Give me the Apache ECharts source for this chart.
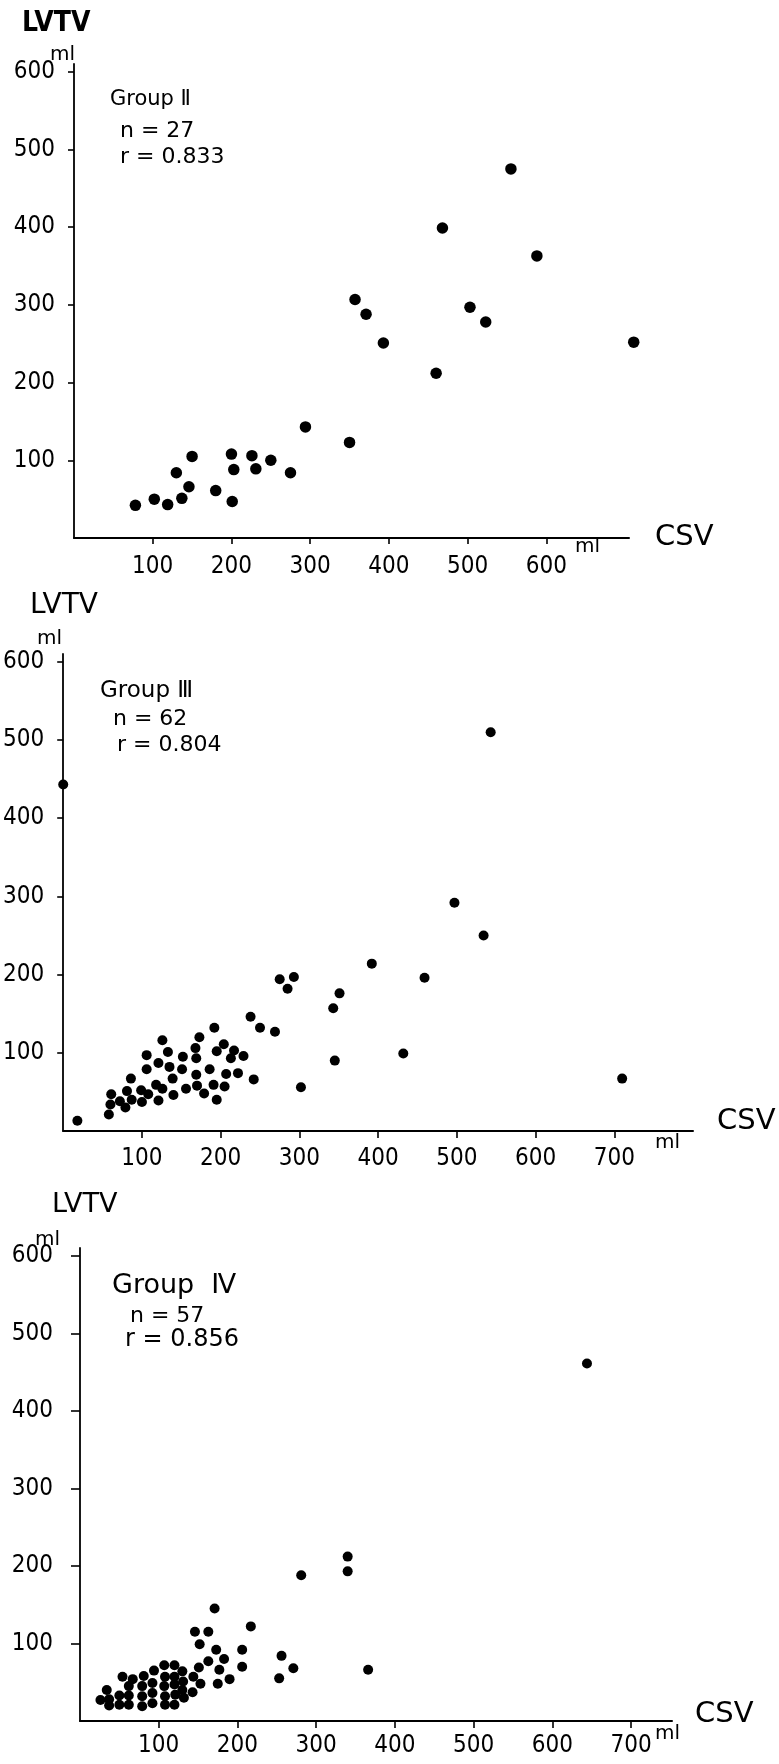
<!DOCTYPE html>
<html>
<head>
<meta charset="utf-8">
<script src="https://cdn.jsdelivr.net/npm/echarts@6/dist/echarts.min.js"></script>
<style>
    body { margin: 0; background: #fff; }
    #main { width: 779px; height: 1764px; }
</style>
</head>
<body>
<div id="main"></div>
<script>
//LVTV 对 CSV 散点图, 三组

//tick labels
var yTicks = [100, 200, 300, 400, 500, 600];
var xTicks2 = [100, 200, 300, 400, 500, 600];
var xTicks34 = [100, 200, 300, 400, 500, 600, 700];

//Group II
var csv2 = [555, 468, 588, 357, 371, 503, 523, 393, 711, 460, 294, 350, 150, 200, 226, 250, 130, 203, 231, 275, 146, 180, 102, 137, 78, 119, 201];
var lvtv2 = [475, 399, 363, 307, 288, 297, 278, 251, 252, 212, 143, 123, 105, 108, 106, 100, 84, 88, 89, 84, 66, 61, 50, 51, 42, 43, 47];

//Group III
var csv3 = [543, 497, 534, 392, 459, 275, 293, 285, 351, 343, 238, 250, 269, 432, 345, 242, 302, 710, 0,
    18, 58, 60, 61, 72, 79, 81, 86, 87, 99, 108, 100, 106, 106, 118, 121, 121, 126, 126, 133,
    135, 139, 140, 151, 152, 156, 168, 169, 169, 170, 173, 179, 186, 191, 192, 195, 195, 204, 205, 207,
    213, 217, 222, 229];
var lvtv3 = [510, 292, 250, 214, 196, 194, 197, 182, 176, 157, 146, 132, 127, 99, 90, 66, 56, 67, 443,
    13, 21, 34, 47, 38, 30, 51, 67, 40, 52, 47, 37, 79, 97, 59, 87, 39, 54, 116, 101,
    82, 67, 46, 79, 95, 54, 106, 93, 72, 58, 120, 48, 79, 59, 132, 102, 40, 111, 57, 73,
    93, 103, 74, 96];

//Group IV
var csv4 = [26, 34, 37, 37, 50, 50, 62, 62, 62, 67, 54, 81, 79, 79, 79, 94, 92, 92, 92, 107,
    108, 107, 108, 108, 120, 120, 120, 121, 120, 130, 131, 130, 132, 144, 153, 143, 151, 146, 163, 152,
    173, 183, 163, 177, 175, 190, 206, 206, 256, 271, 253, 644, 340, 340, 281, 171, 217, 366];
var lvtv4 = [27, 40, 28, 20, 33, 21, 45, 33, 21, 54, 57, 58, 45, 32, 19, 65, 49, 36, 23, 72,
    57, 45, 32, 21, 72, 57, 47, 34, 21, 64, 51, 40, 30, 57, 48, 37, 69, 115, 115, 99,
    92, 80, 77, 66, 48, 54, 92, 70, 84, 68, 55, 461, 212, 193, 188, 145, 122, 66];

var groupText = [
    ['Group Ⅱ', 'n = 27', 'r = 0.833'],
    ['Group Ⅲ', 'n = 62', 'r = 0.804'],
    ['Group  Ⅳ', 'n = 57', 'r = 0.856']
];

function pairs(xs, ys) {
    var out = [];
    for (var i = 0; i < xs.length; i++) {
        out.push([xs[i], ys[i]]);
    }
    return out;
}

var numFont = '"DejaVu Sans Condensed", sans-serif';

function makeX(idx, max, ticks, tickLen, margin) {
    return {
        type: 'value', gridIndex: idx, min: 0, max: max,
        axisLine: { show: true, onZero: false, lineStyle: { color: '#000', width: 2 } },
        axisTick: { show: true, customValues: ticks, length: tickLen, lineStyle: { color: '#000', width: 1.6 } },
        axisLabel: { customValues: ticks, color: '#000', fontSize: 24, fontFamily: numFont, margin: margin },
        splitLine: { show: false }
    };
}

function makeY(idx, tickLen, margin) {
    return {
        type: 'value', gridIndex: idx, min: 0, max: 610,
        axisLine: { show: true, onZero: false, lineStyle: { color: '#000', width: 1.8 } },
        axisTick: { show: true, customValues: yTicks, length: tickLen, lineStyle: { color: '#000', width: 1.6 } },
        axisLabel: { customValues: yTicks, color: '#000', fontSize: 24, fontFamily: numFont, margin: margin },
        splitLine: { show: false }
    };
}

function txt(x, y, s, size, weight, family) {
    return {
        type: 'text', x: x, y: y,
        style: {
            text: s, fill: '#000', verticalAlign: 'middle',
            font: (weight || 'normal') + ' ' + size + 'px "' + (family || 'DejaVu Sans') + '"'
        }
    };
}

function dots(idx, data, size) {
    return {
        type: 'scatter', xAxisIndex: idx, yAxisIndex: idx, data: data,
        symbolSize: size, clip: false,
        itemStyle: { color: '#000', opacity: 1 }
    };
}

var myChart = echarts.init(document.getElementById('main'), null, { renderer: 'canvas' });

var option = {
    backgroundColor: '#fff',
    animation: false,
    grid: [
        { left: 74, top: 64, width: 555, height: 474 },
        { left: 63, top: 654, width: 630, height: 477 },
        { left: 80, top: 1248, width: 592, height: 473 }
    ],
    xAxis: [
        makeX(0, 705, xTicks2, 6, 17),
        makeX(1, 800, xTicks34, 7, 16),
        makeX(2, 752, xTicks34, 7, 13)
    ],
    yAxis: [
        makeY(0, 6, 19),
        makeY(1, 6, 19),
        makeY(2, 9, 27)
    ],
    series: [
        dots(0, pairs(csv2, lvtv2), 11.5),
        dots(1, pairs(csv3, lvtv3), 10),
        dots(2, pairs(csv4, lvtv4), 10)
    ],
    graphic: [
        //panel 1
        txt(22, 24, 'LVTV', 28, 'bold', 'DejaVu Sans Condensed'),
        txt(50, 55, 'ml', 20),
        txt(110, 100, groupText[0][0], 21),
        txt(120, 131, groupText[0][1], 22),
        txt(120, 157, groupText[0][2], 22),
        txt(655, 537, 'CSV', 29),
        txt(575, 547, 'ml', 20),
        //panel 2
        txt(30, 606, 'LVTV', 28),
        txt(37, 639, 'ml', 20),
        txt(100, 691, groupText[1][0], 23),
        txt(113, 719, groupText[1][1], 22),
        txt(117, 745, groupText[1][2], 22),
        txt(717, 1121, 'CSV', 29),
        txt(655, 1143, 'ml', 20),
        //panel 3
        txt(52, 1205, 'LVTV', 27),
        txt(35, 1240, 'ml', 20),
        txt(112, 1286, groupText[2][0], 27),
        txt(130, 1316, groupText[2][1], 22),
        txt(125, 1340, groupText[2][2], 24),
        txt(695, 1714, 'CSV', 29),
        txt(655, 1734, 'ml', 20)
    ]
};

myChart.setOption(option);
</script>
</body>
</html>
